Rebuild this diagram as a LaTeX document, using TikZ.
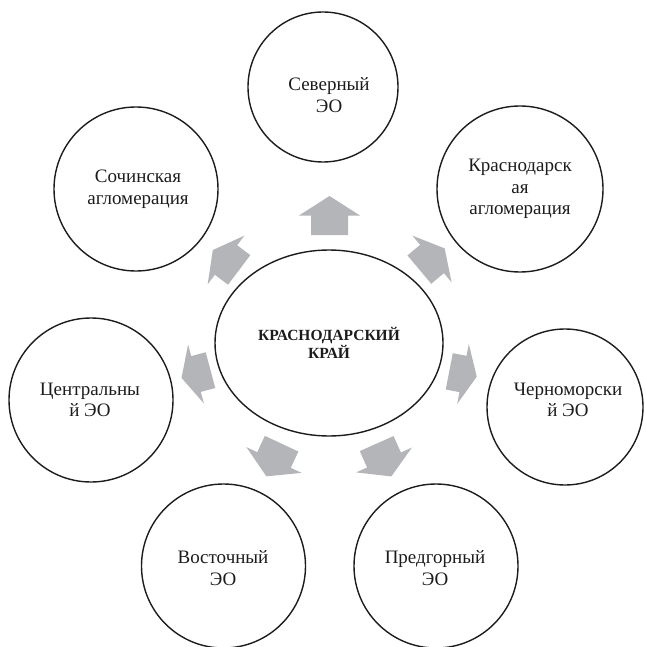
\documentclass[tikz,border=0pt]{standalone}
\usepackage{fontspec}
\setmainfont{Liberation Serif}
\usetikzlibrary{shapes.geometric}
\definecolor{arrowgray}{RGB}{180,181,185}
\definecolor{ink}{RGB}{28,28,28}
\tikzset{
  sat/.style={circle,draw=ink,line width=1.4pt,minimum size=#1,inner sep=0pt},
  sat/.default=158pt,
  txt/.style={font=\fontsize{19}{21.5}\selectfont,align=center,text=ink,inner sep=0pt},
  hubtxt/.style={font=\fontsize{15.5}{17.5}\selectfont\bfseries,align=center,text=ink,inner sep=0pt},
  barrow/.pic={
    \fill[arrowgray] (#1/2*1pt,0pt) -- (0pt,30.5pt) -- (0pt,18.5pt) -- (-#1/2*1pt,18.5pt)
      -- (-#1/2*1pt,-18.5pt) -- (0pt,-18.5pt) -- (0pt,-30.5pt) -- cycle;
  }
}
\begin{document}
\begin{tikzpicture}[x=1pt,y=-1pt]
\useasboundingbox (0,0) rectangle (645,647);
% hub
\node[ellipse,draw=ink,line width=1.4pt,minimum width=228pt,minimum height=186pt,inner sep=0pt] (hub) at (329,343) {};
\node[hubtxt] (hubT) at (329,343) {КРАСНОДАРСКИЙ\\КРАЙ};
% satellites
\node[sat=150pt] (north) at (323,87) {};
\node[txt] (northT) at (329,95) {Северный\\ЭО};
\node[sat=166pt] (krd) at (520,189) {};
\node[txt] (krdT) at (520,189) {Краснодарск\\ая\\агломерация};
\node[sat=164pt] (sochi) at (136,189) {};
\node[txt] (sochiT) at (138,189) {Сочинская\\агломерация};
\node[sat=156pt] (black) at (565,407) {};
\node[txt] (blackT) at (568,400) {Черноморски\\й ЭО};
\node[sat=164pt] (centr) at (91,400) {};
\node[txt] (centrT) at (90,400) {Центральны\\й ЭО};
\node[sat=164pt] (east) at (223.5,566) {};
\node[txt] (eastT) at (223,568) {Восточный\\ЭО};
\node[sat=164pt] (foot) at (436,566) {};
\node[txt] (footT) at (435,568) {Предгорный\\ЭО};
% arrows
\pic[rotate=90] at (329.5,215.5) {barrow=39};
\pic[rotate=143] at (226,260) {barrow=33};
\pic[rotate=40] at (432,259) {barrow=33};
\pic[rotate=195] at (196,374) {barrow=30};
\pic[rotate=-11] at (463,374) {barrow=28};
\pic[rotate=-115] at (274,460) {barrow=36};
\pic[rotate=-66] at (384,460) {barrow=36};
\end{tikzpicture}
\end{document}
